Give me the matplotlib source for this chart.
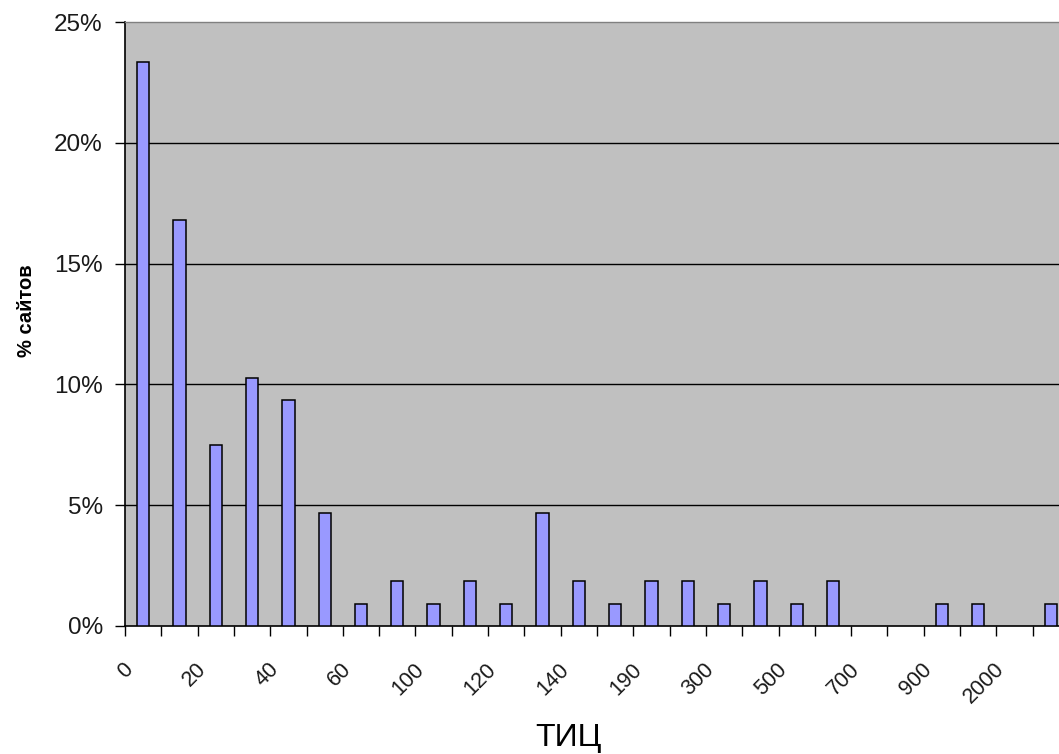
import numpy as np
import matplotlib
matplotlib.use('Agg')
import matplotlib.pyplot as plt
from matplotlib.transforms import ScaledTranslation

# share of sites (%) per TIC bucket
shares = [23.36, 16.82, 7.48, 10.28, 9.35, 4.67, 0.93, 1.87, 0.93, 1.87,
          0.93, 4.67, 1.87, 0.93, 1.87, 1.87, 0.93, 1.87, 0.93, 1.87,
          0.0, 0.0, 0.93, 0.93, 0.0, 0.93]
# only every second category is labelled on the original axis
tick_labels = ['0', '', '20', '', '40', '', '60', '', '100', '',
               '120', '', '140', '', '190', '', '300', '', '500', '',
               '700', '', '900', '', '2000', '']
y_ticks = [0, 5, 10, 15, 20, 25]

plt.rcParams['font.family'] = ['Liberation Sans', 'DejaVu Sans']

fig = plt.figure(figsize=(10.59, 7.54), dpi=100)
W, H = 1059, 754
# plot area runs past the right edge, as in the cropped original
ax = fig.add_axes([125 / W, 128 / H, 944 / W, 604 / H])
ax.set_facecolor('#C0C0C0')

x = np.arange(len(shares))
vals = np.array(shares)
keep = vals > 0  # empty buckets get no bar at all
ax.bar(x[keep], vals[keep], width=0.34, color='#9999FF', edgecolor='black',
       linewidth=1.1, zorder=3)

ax.set_xlim(-0.5, len(shares) - 0.5)
ax.set_ylim(0, 25)

for v in y_ticks[1:-1]:
    ax.axhline(v, color='black', linewidth=1.0, zorder=1)

ax.set_yticks(y_ticks)
ax.set_yticklabels([f'{v}%' for v in y_ticks], fontsize=17.5, color='#1a1a1a')
ax.tick_params(axis='y', direction='out', length=7, width=1.0, pad=9)

ax.set_xticks(x)
ax.set_xticklabels(tick_labels, fontsize=15.5, rotation=45, ha='right', va='center',
                   rotation_mode='anchor', color='#1a1a1a')
ax.tick_params(axis='x', which='major', length=0, pad=29)
ax.set_xticks(np.arange(len(shares) + 1) - 0.5, minor=True)
ax.tick_params(axis='x', which='minor', direction='out', length=7, width=1.0)
shift = ScaledTranslation(-13 / 100, 0, fig.dpi_scale_trans)
for lab in ax.get_xticklabels():
    lab.set_transform(lab.get_transform() + shift)

for side in ['left', 'bottom']:
    ax.spines[side].set_color('black')
    ax.spines[side].set_linewidth(1.2)
ax.spines['top'].set_color('#808080')
ax.spines['top'].set_linewidth(1.0)
ax.spines['right'].set_visible(False)

fig.text(27 / W, 1 - 311 / H, '% сайтов', rotation=90, ha='center', va='center',
         fontsize=14.5, fontweight='bold')
fig.text(568 / W, 8 / H, 'ТИЦ', ha='center', va='baseline', fontsize=23)

fig.savefig('out.png', dpi=100)
